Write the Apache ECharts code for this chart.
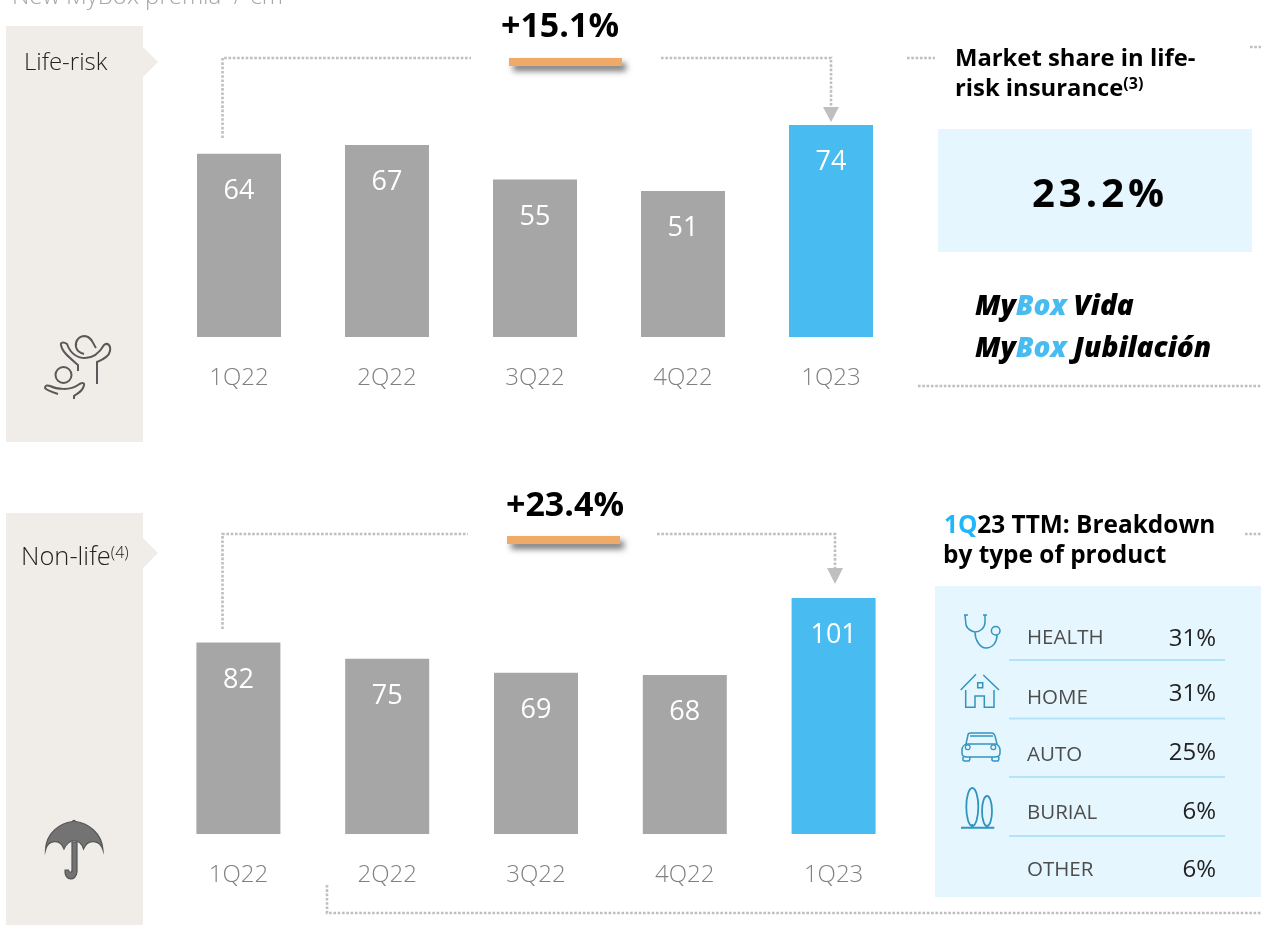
<!DOCTYPE html>
<html>
<head>
<meta charset="utf-8">
<style>html,body{margin:0;padding:0;background:#fff}#c{width:1261px;height:925px}</style>
<script src="https://cdn.jsdelivr.net/npm/echarts@6/dist/echarts.min.js"></script>
</head>
<body>
<div id="c"></div>
<script>
const quarters = ['1Q22','2Q22','3Q22','4Q22','1Q23'];
const lifeRisk = [64,67,55,51,74];
const nonLife = [82,75,69,68,101];
const productNames = ['HEALTH','HOME','AUTO','BURIAL','OTHER'];
const productShares = ['31%','31%','25%','6%','6%'];

const FF = '"Open Sans"';
const GREY='#a6a6a6', BLUE='#48bcf0', DOT='#bfbfbf', PANEL='#f0ede9', PALE='#e6f6fe', ICON='#2f95c0', DARK='#595959';

const iconPaths = {
  adultArms:'M78 371 L78 365 C70 358 62 352 61 345 C60 342 64 342 67 344 C70 352 76 358 85 358 C94 358 100 352 104 345 C108 342 111 346 110 351 C109 357 102 360 97 362 L97 384',
  adultHead:'M96 348 C93 344 92 337 85 336 C78 336 75 342 76 347 C77 351 80 353 84 354',
  childArms:'M58 394 C52 392 46 390 45 388 C45 385 48 385 50 386 C56 389 70 391 78 385 C82 382 85 383 84 385 C83 392 76 394 74 396 L74 399',
  umbrella:'M45.5 850 C46 833 60 823 72.5 821.5 C73 820 75 820 75.5 821.5 C88 823 102 833 103 850 C100 840 88 838 83.5 849 C80 838 69 838 64 849 C60 838 48 840 45.5 850 Z',
  handle:'M72 842 L72 870 C72 873 69 873 68.5 870 L65 870 C64 881 76 882 77 872 L77 842 Z',
  steth:'M965 615 L966 625 C968 631 975 632 975 632 C980 632 985 628 985 622 L985 615 M975 632 C975 640 980 648 986 648 C993 648 997 642 997 635 M964 615 L968 615 M983 615 L987 615',
  house:'M960.7 690 L976 674.3 M983.3 675 L999 690 M965.7 690 L965.7 707.3 L975 707.3 L975 696 L984.3 696 L984.3 707.3 L994 707.3 L994 690 M977.7 682.7 L982.7 682.7 L982.7 687.7 L977.7 687.7 Z',
  car:'M966 744 L968 735 C968 733 970 733 971 733 L992 733 C994 733 994 734 995 736 L997 744 M970 736 L993 736 M968 744 L995 744 C998 744 1000 747 1000 750 L1000 753 C1000 756 998 757 995 757 L967 757 C964 757 962 756 962 753 L962 750 C962 747 964 744 968 744 M963 757 L963 760 Q963 761 966 761 L969 761 Q970 760 970 757 M992 757 L992 760 Q992 761 995 761 L998 761 Q999 760 999 757',
  trees:'M961 827.7 L994.3 827.7 M972.3 824 L972.3 828 M987 825 L987 828'
};
Object.keys(iconPaths).forEach(k => {
  echarts.graphic.registerShape('ic_' + k, echarts.graphic.extendPath(iconPaths[k], {}));
});
const ic = (k, stroke, fill, w) => ({type:'ic_' + k, silent:true, style:{stroke, fill:fill||'none', lineWidth:w||1.5}});

const txt = (x,y,text,o) => ({type:'text', silent:true, x, y, style:Object.assign({text, align:'left', verticalAlign:'middle', fill:'#000', fontFamily:FF, fontSize:22}, o||{})});
const dots = (pts) => ({type:'polyline', silent:true, shape:{points:pts}, style:{stroke:DOT, fill:'none', lineWidth:2.6, lineDash:[2.6,1.7]}});
const tri = (pts) => ({type:'polygon', silent:true, shape:{points:pts}, style:{fill:'#bfbfbf'}});
const panel = (y0,y1,ay) => ([
  {type:'rect', silent:true, shape:{x:6,y:y0,width:137,height:y1-y0}, style:{fill:PANEL}},
  {type:'polygon', silent:true, shape:{points:[[143,ay-15],[158,ay],[143,ay+15]]}, style:{fill:PANEL}}
]);
const orange = (x,y) => ({type:'rect', silent:true, shape:{x,y,width:113,height:8}, style:{fill:'#eeaa66', shadowBlur:6, shadowOffsetX:4, shadowOffsetY:5, shadowColor:'rgba(0,0,0,0.55)'}});
const myBox = () => ({a:{fill:'#000',fontSize:28,fontWeight:800,fontStyle:'italic',fontFamily:FF},b:{fill:BLUE,fontSize:28,fontWeight:800,fontStyle:'italic',fontFamily:FF}});

const elements = [
  txt(12,-3,'New MyBox premia  / €m',{fill:'#a6a6a6',fontSize:24,fontWeight:300}),
  ...panel(26,442,62), ...panel(513,925,553),
  txt(24,63,'Life-risk',{fill:'#222',fontSize:24,fontWeight:300}),
  txt(21,558,'{a|Non-life}{b|(4)}',{rich:{a:{fill:'#222',fontSize:25.5,fontWeight:300,fontFamily:FF},b:{fill:'#222',fontSize:16,fontWeight:300,fontFamily:FF,verticalAlign:'top',padding:[0,0,10,0]}}}),

  ic('adultArms',DARK,'none',2), ic('adultHead',DARK,'none',2), ic('childArms',DARK,'none',2),
  {type:'circle',silent:true,shape:{cx:63.5,cy:375,r:8},style:{stroke:DARK,fill:'none',lineWidth:2}},
  ic('umbrella','#555','#737373',1.2), ic('handle','#555','#737373',1.2),

  dots([[222.5,138],[222.5,58],[471,58]]), dots([[661,58],[831,58],[831,106]]), tri([[823,107],[839,107],[831,122]]),
  orange(509,58), txt(560,27,'+15.1%',{align:'center',fontSize:34,fontWeight:700}),
  dots([[222.5,629],[222.5,534],[468,534]]), dots([[657,534],[835,534],[835,568]]), tri([[827,568],[843,568],[835,584]]),
  orange(507,536), txt(565,506,'+23.4%',{align:'center',fontSize:34,fontWeight:700}),

  dots([[907,58],[935,58]]), dots([[1250,47],[1261,47]]), dots([[918,386],[1261,386]]),
  dots([[1245,534],[1261,534]]), dots([[327,885],[327,913],[1261,913]]),

  txt(955,59,'Market share in life-',{fontSize:23.8,fontWeight:700}),
  txt(955,89,'{a|risk insurance}{b|(3)}',{rich:{a:{fill:'#000',fontSize:23.8,fontWeight:700,fontFamily:FF},b:{fill:'#000',fontSize:16,fontWeight:700,fontFamily:FF,verticalAlign:'top',padding:[0,0,10,0]}}}),
  {type:'rect',silent:true,shape:{x:938,y:129,width:314,height:123},style:{fill:PALE}},
  txt(1098,196,'2\u200a3\u200a.\u200a2\u200a%',{align:'center',fontSize:40,fontWeight:700}),
  txt(975,307,'{a|My}{b|Box}{a| Vida}',{rich:myBox()}),
  txt(975,349,'{a|My}{b|Box}{a| Jubilación}',{rich:myBox()}),

  txt(944,526,'{b|1Q}{a|23 TTM: Breakdown}',{rich:{a:{fill:'#000',fontSize:24.4,fontWeight:700,fontFamily:FF},b:{fill:'#1fb6fb',fontSize:24.4,fontWeight:700,fontFamily:FF}}}),
  txt(943,556,'by type of product',{fontSize:24.4,fontWeight:700}),
  {type:'rect',silent:true,shape:{x:935,y:586,width:326,height:311},style:{fill:PALE}},

  ic('steth',ICON), {type:'circle',silent:true,shape:{cx:995.7,cy:630.7,r:4.3},style:{stroke:ICON,fill:'none',lineWidth:1.5}},
  ic('house',ICON),
  ic('car',ICON),
  {type:'circle',silent:true,shape:{cx:967.7,cy:747.3,r:2.4},style:{stroke:ICON,fill:'none',lineWidth:1.2}},
  {type:'circle',silent:true,shape:{cx:993.3,cy:747.3,r:2.4},style:{stroke:ICON,fill:'none',lineWidth:1.2}},
  {type:'ellipse',silent:true,shape:{cx:972.3,cy:807,rx:6,ry:19},style:{stroke:ICON,fill:'none',lineWidth:1.8}},
  {type:'ellipse',silent:true,shape:{cx:987,cy:811,rx:5,ry:15},style:{stroke:ICON,fill:'none',lineWidth:1.8}},
  ic('trees',ICON,'none',2)
];
const rowLabelY=[638,698,755,813,870], rowValueY=[639,694,753,812,870], sepY=[660,718.5,777,836];
sepY.forEach(y=>elements.push({type:'line',silent:true,shape:{x1:1009,y1:y,x2:1225,y2:y},style:{stroke:'#b3e3f9',lineWidth:2}}));
productNames.forEach((n,i)=>{
  elements.push(txt(1027,rowLabelY[i],n,{fill:'#4d4d4d',fontSize:20.5}));
  elements.push(txt(1216,rowValueY[i],productShares[i],{align:'right',fill:'#222',fontSize:24,fontWeight:500}));
});

const barData = arr => arr.map((v,i)=>({value:v,itemStyle:{color:i===arr.length-1?BLUE:GREY}}));
const series = (idx,arr)=>({type:'bar',xAxisIndex:idx,yAxisIndex:idx,data:barData(arr),barWidth:84,silent:true,
  label:{show:true,position:'insideTop',distance:24,color:'#fff',fontFamily:FF,fontSize:27,fontWeight:400}});
const xAx = idx=>({type:'category',gridIndex:idx,data:quarters,axisLine:{show:false},axisTick:{show:false},
  axisLabel:{margin:29,color:'#808080',fontFamily:FF,fontSize:24,fontWeight:300,interval:0}});
const yAx = (idx,arr)=>({type:'value',gridIndex:idx,min:0,max:Math.max(...arr),show:false,splitLine:{show:false}});

const chart = echarts.init(document.getElementById('c'),null,{renderer:'canvas'});
chart.setOption({
  animation:false,
  backgroundColor:'#fff',
  grid:[{left:165,top:125,width:740,height:212},{left:164,top:598,width:744,height:236}],
  xAxis:[xAx(0),xAx(1)],
  yAxis:[yAx(0,lifeRisk),yAx(1,nonLife)],
  series:[series(0,lifeRisk),series(1,nonLife)],
  graphic:{elements}
});
</script>
</body>
</html>
